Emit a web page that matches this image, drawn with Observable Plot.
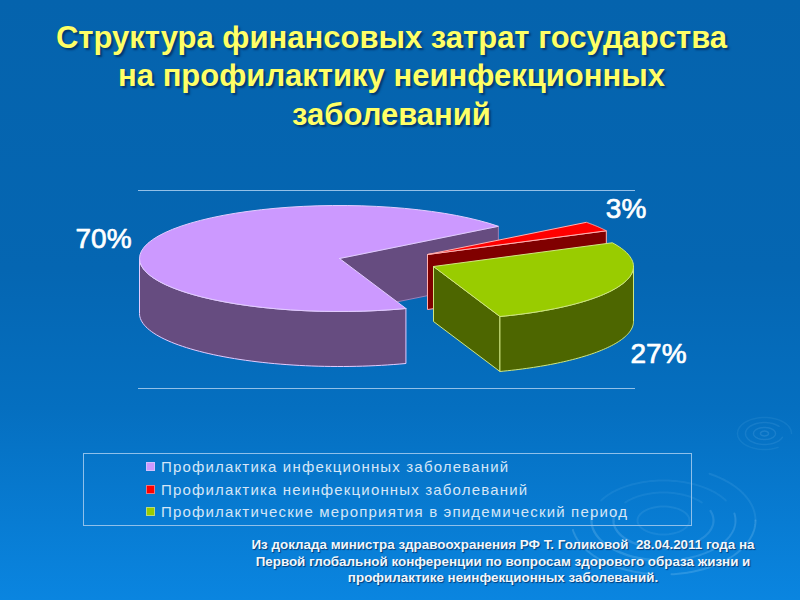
<!DOCTYPE html>
<html lang="ru">
<head>
<meta charset="utf-8">
<script src="https://cdn.jsdelivr.net/npm/d3@7"></script>
<script src="https://cdn.jsdelivr.net/npm/@observablehq/plot@0.6"></script>
<style>
html,body{margin:0;padding:0;}
#stage{position:relative;width:800px;height:600px;overflow:hidden;
  background:linear-gradient(180deg,#0563ad 0%,#0566b2 45%,#056fc0 68%,#0a85e0 100%);
  font-family:"Liberation Sans",Arial,sans-serif;}
#stage svg{position:absolute;left:0;top:0;background:transparent;}
#title{position:absolute;left:0;top:18.5px;width:783px;text-align:center;color:#ffff66;font-weight:bold;
  font-size:31px;line-height:38.5px;text-shadow:2px 2px 2px rgba(0,20,60,.55);white-space:nowrap;}
#legend{position:absolute;left:83px;top:453px;width:607px;height:71px;border:1.5px solid #8fc0ea;box-sizing:content-box;}
.row{position:absolute;left:62px;color:#d5e6f7;font-size:15px;letter-spacing:1.17px;white-space:nowrap;line-height:16px;}
.sw{display:inline-block;width:7px;height:7px;margin-right:6px;vertical-align:1px;border:.5px solid rgba(220,230,250,.5);}
#caption{position:absolute;left:203px;top:537px;width:600px;text-align:center;color:#f2f7fc;font-weight:bold;
  font-size:13.4px;line-height:16.6px;text-shadow:1px 1px 1px rgba(0,30,80,.7);white-space:pre;}
</style>
</head>
<body>
<div id="stage"></div>
<script>
// Data
const categories = ["Профилактика инфекционных заболеваний","Профилактика неинфекционных заболеваний","Профилактические мероприятия в эпидемический период"];
const shares = [70, 3, 27];
const topColors = ["#cc99ff", "#ff0000", "#99cc00"];
const wallColors = ["#664c80", "#800000", "#4d6600"];
const edgeColors = ["#e3ccff", "#ffb0b0", "#cfe680"];
const titleLines = ["Структура финансовых затрат государства","на профилактику неинфекционных","заболеваний"];
const captionLines = ["Из доклада министра здравоохранения РФ Т. Голиковой  28.04.2011 года на","Первой глобальной конференции по вопросам здорового образа жизни и","профилактике неинфекционных заболеваний."];

// Pie layout, in units of the pie radius
const firstAngle = 160.6 * Math.PI / 180;
const tilt = 0.265, depth = 0.275;
const explode = [[0, 0], [0.44, 0.02], [0.47, -0.04]];
const labelAt = [[-1.18, 0.095], [1.433, 0.245], [1.595, -0.48]];
const arcs = d3.pie().sort(null).startAngle(firstAngle).endAngle(firstAngle + 2 * Math.PI)(shares);

const pt = (i, a, drop = 0) => [explode[i][0] + Math.sin(a), explode[i][1] + tilt * Math.cos(a) - drop];
const apex = (i, drop = 0) => [explode[i][0], explode[i][1] - drop];
const arc = (i, a0, a1, drop = 0) => d3.range(0, 61).map(k => pt(i, a0 + (a1 - a0) * k / 60, drop));
const closed = pts => [...pts, pts[0]];
const poly = (pts, fill, stroke) => Plot.line(closed(pts), {x: d => d[0], y: d => d[1], fill, stroke, strokeWidth: 1, curve: "linear"});

const marks = [];
// decorative ripples of the slide background
const ring = (cx, cy, rx, ry, from, to, op, w) => Plot.line(
  d3.range(0, 61).map(k => { const t = (from + (to - from) * k / 60) * Math.PI / 180; return [cx + rx * Math.cos(t), cy + ry * Math.sin(t)]; }),
  {x: d => d[0], y: d => d[1], stroke: "#8ccaf5", strokeOpacity: op, strokeWidth: w, curve: "linear"});
[[0.46, 0.27, 190, 262, .25, 2], [0.46, 0.27, 275, 360, .25, 2], [0.46, 0.27, 0, 60, .12, 2],
 [0.36, 0.2, 170, 265, .25, 2.4], [0.36, 0.2, 285, 370, .24, 2], [0.36, 0.2, 30, 150, .1, 2],
 [0.25, 0.14, 160, 250, .24, 2.4], [0.25, 0.14, 270, 380, .2, 2.2], [0.25, 0.14, 40, 140, .1, 2],
 [0.13, 0.07, 0, 360, .12, 2]].forEach(([rx, ry, a, b, o, w]) => marks.push(ring(1.62, -1.31, rx, ry, a, b, o, w)));
[[0.135, 0.08, 0, 300, .1, 1.5], [0.095, 0.055, 40, 340, .13, 1.5], [0.055, 0.03, 0, 360, .15, 1.5], [0.02, 0.012, 0, 360, .18, 1.5]].forEach(([rx, ry, a, b, o, w]) => marks.push(ring(2.125, -0.875, rx, ry, a, b, o, w)));

// rules above and below the pie
const ruleData = [[0.34], [-0.65]];
marks.push(Plot.ruleY(ruleData, {y: d => d[0], x1: -1.005, x2: 1.48, stroke: "#93c0e8", strokeWidth: 1}));

const s = arcs.map(a => ({a0: a.startAngle, a1: a.endAngle}));
// slice 0: cut wall facing the gap, visible outer wall, top
marks.push(poly([apex(0), pt(0, s[0].a1), pt(0, s[0].a1, depth), apex(0, depth)], wallColors[0], "#9a80b8"));
marks.push(poly([...arc(0, s[0].a0, 1.5 * Math.PI), ...arc(0, 1.5 * Math.PI, s[0].a0, depth)], wallColors[0], edgeColors[0]));
marks.push(poly([apex(0), ...arc(0, s[0].a0, s[0].a1)], topColors[0], edgeColors[0]));
// slice 1: cut wall, top
marks.push(poly([apex(1), pt(1, s[1].a1), pt(1, s[1].a1, depth), apex(1, depth)], wallColors[1], edgeColors[1]));
marks.push(poly([apex(1), ...arc(1, s[1].a0, s[1].a1)], topColors[1], edgeColors[1]));
// slice 2: cut wall, visible outer wall, top
marks.push(poly([apex(2), pt(2, s[2].a1), pt(2, s[2].a1, depth), apex(2, depth)], wallColors[2], edgeColors[2]));
marks.push(poly([...arc(2, 2.5 * Math.PI, s[2].a1), ...arc(2, s[2].a1, 2.5 * Math.PI, depth)], wallColors[2], edgeColors[2]));
marks.push(poly([apex(2), ...arc(2, s[2].a0, s[2].a1)], topColors[2], edgeColors[2]));
// value labels
marks.push(Plot.text(shares.map((v, i) => ({v, x: labelAt[i][0], y: labelAt[i][1]})), {
  x: "x", y: "y", text: d => d.v + "%", fill: "#fff", stroke: "#fff", strokeWidth: .7, fontSize: 28, fontFamily: "Liberation Sans", textAnchor: "middle", lineAnchor: "middle"
}));

const chart = Plot.plot({
  width: 800, height: 600, margin: 0,
  x: {domain: [-339 / 200, 461 / 200], range: [0, 800], axis: null},
  y: {domain: [-342 / 200, 258 / 200], range: [600, 0], axis: null},
  style: {background: "transparent", overflow: "visible"},
  marks
});

const stage = document.getElementById("stage");
stage.appendChild(chart);

const title = document.createElement("div");
title.id = "title";
title.innerHTML = titleLines.join("<br>");
stage.appendChild(title);

const legend = document.createElement("div");
legend.id = "legend";
categories.forEach((c, i) => {
  const r = document.createElement("div");
  r.className = "row";
  r.style.top = (5 + i * 22.5) + "px";
  const sw = document.createElement("span");
  sw.className = "sw";
  sw.style.background = topColors[i];
  r.appendChild(sw);
  r.appendChild(document.createTextNode(c));
  legend.appendChild(r);
});
stage.appendChild(legend);

const cap = document.createElement("div");
cap.id = "caption";
cap.innerHTML = captionLines.join("<br>");
stage.appendChild(cap);
</script>
</body>
</html>
